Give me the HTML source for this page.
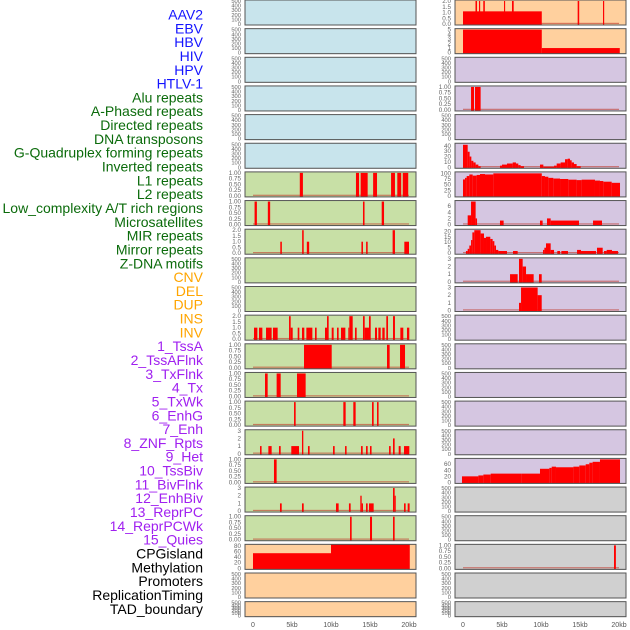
<!DOCTYPE html>
<html><head><meta charset="utf-8"><style>
html,body{margin:0;padding:0;background:#fff;width:630px;height:630px;overflow:hidden}
svg{display:block}
</style></head><body>
<svg id="chart" width="630" height="630" xmlns="http://www.w3.org/2000/svg"></svg>
<script>
// ----- data -----
const trackLabels = ["AAV2","EBV","HBV","HIV","HPV","HTLV-1","Alu repeats","A-Phased repeats","Directed repeats","DNA transposons","G-Quadruplex forming repeats","Inverted repeats","L1 repeats","L2 repeats","Low_complexity A/T rich regions","Microsatellites","MIR repeats","Mirror repeats","Z-DNA motifs","CNV","DEL","DUP","INS","INV","1_TssA","2_TssAFlnk","3_TxFlnk","4_Tx","5_TxWk","6_EnhG","7_Enh","8_ZNF_Rpts","9_Het","10_TssBiv","11_BivFlnk","12_EnhBiv","13_ReprPC","14_ReprPCWk","15_Quies","CPGisland","Methylation","Promoters","ReplicationTiming","TAD_boundary"];
const labelGroups = ["v","v","v","v","v","v","r","r","r","r","r","r","r","r","r","r","r","r","r","s","s","s","s","s","c","c","c","c","c","c","c","c","c","c","c","c","c","c","c","o","o","o","o","o"];
const xTickLabels = ["0","5kb","10kb","15kb","20kb"];
const xTickValues = [0,5,10,15,20];
const emptyTicks = [0,100,200,300,400,500];
const unitTicks = [0,0.25,0.5,0.75,1];
const twoTicks = [0,0.5,1,1.5,2];
const threeTicks = [0,1,2,3];

// left column panels (segments: [startKb, endKb, value])
const L6 = [[6.0,6.4,1],[13.2,13.6,1],[13.8,14.7,1],[15.4,15.9,1],[17.7,18.2,1],[18.5,19.0,1],[19.2,19.9,1]];
const L7 = [[0.2,0.5,1],[1.9,2.2,1],[14.1,14.3,1],[16.5,16.8,1]];
const L8 = [[3.5,3.7,1],[6.3,6.5,2],[6.9,7.2,1],[13.9,14.1,1],[14.5,14.7,1],[17.9,18.2,2],[19.4,20.0,1]];
const L11 = [[0.13,0.56,1],[0.77,1.2,1],[1.67,2.39,1],[2.56,3.16,1],[4.62,4.83,2],[4.83,5.09,1],[5.73,5.94,1],[6.28,6.58,1],[6.84,7.61,1],[7.95,8.16,1],[9.23,9.49,1],[9.49,9.7,2],[10.09,10.34,1],[10.77,10.98,1],[11.28,11.84,1],[12.22,12.35,1],[12.35,12.78,2],[13.08,13.29,1],[14.1,14.32,2],[14.32,14.87,1],[14.87,15.09,2],[15.64,15.9,1],[16.07,16.37,1],[16.58,16.88,1],[17.09,17.31,2],[17.95,18.2,2],[18.89,19.27,1],[19.74,20.04,1]];
const L12 = [[6.54,10.09,1],[17.18,17.52,1],[18.85,19.49,1]];
const L13 = [[1.54,1.88,1],[3.03,3.55,1],[5.64,6.75,1]];
const L14 = [[5.26,5.47,1],[11.58,11.88,1],[12.86,13.16,1],[15.26,15.47,1],[15.9,16.1,1]];
const L15 = [[0.9,1.1,1],[1.97,2.39,1],[3.33,3.55,1],[4.91,5.9,1],[6.28,6.45,3],[7.05,7.26,1],[10.26,10.47,1],[11.8,12.0,1],[13.85,14.06,1],[14.49,14.7,1],[15.0,15.2,1],[17.44,17.65,1],[17.95,18.16,2],[18.68,18.93,1],[19.36,20.04,1]];
const L16 = [[2.69,3.03,1]];
const L17 = [[3.46,3.68,1],[6.28,6.5,1],[10.64,10.98,1],[12.3,12.52,1],[13.76,13.93,2],[13.93,14.1,1],[14.49,14.7,1],[14.87,15.47,1],[17.95,18.16,3],[18.16,18.3,2],[19.36,19.57,1],[19.83,20.08,1]];
const L18 = [[12.44,12.65,1],[15.0,15.26,1],[17.95,18.16,1]];
const L19 = [[0,10.0,54],[10.0,20.1,90]];

// right column panels
const R0 = [[0,10.1,1.1],[1.6,1.8,2],[2.05,2.2,2],[2.6,2.8,2],[5.26,5.4,2],[6.28,6.5,2],[14.7,14.9,2],[17.95,18.1,2]];
const R1 = [[0,10.1,5],[10.1,20.1,1.0]];
const R3 = [[1.03,1.41,1],[1.54,2.26,1]];
const R5 = [[0,0.6,42],[0.6,0.85,29],[0.85,1.07,20],[1.07,1.33,12],[1.33,1.62,9],[1.62,1.97,5],[1.97,2.26,2],[4.74,5.0,3],[5.0,5.64,5],[5.64,6.37,7],[6.37,6.79,9],[6.79,7.09,7],[7.09,7.39,4],[7.39,7.82,2],[9.87,10.3,5],[10.3,11.67,1],[11.67,12.01,3],[12.01,12.52,7],[12.52,13.08,9],[13.08,13.42,15],[13.42,13.72,16],[13.72,13.93,13],[13.93,14.23,9],[14.23,14.57,6],[14.57,15.09,2]];
const R6 = [[0,0.26,73],[0.26,0.47,80],[0.47,0.81,88],[0.81,1.24,95],[1.24,1.75,90],[1.75,2.18,93],[2.18,2.82,97],[2.82,3.89,95],[3.89,10.1,100],[10.1,10.51,88],[10.51,10.94,85],[10.94,11.58,80],[11.58,12.44,77],[12.44,13.5,75],[13.5,14.57,72],[14.57,15.21,70],[15.21,16.92,72],[16.92,17.56,68],[17.56,17.99,66],[17.99,19.06,63],[19.06,20.13,58]];
const R7 = [[0.6,1.03,3],[1.03,1.62,7.5],[1.62,1.8,2],[4.74,5.21,1.3],[9.87,10.21,1.3],[10.77,11.24,2],[11.24,14.87,1.3],[16.67,17.82,1.3]];
const R8 = [[0.38,0.6,2],[0.6,0.81,4],[0.81,1.03,7],[1.03,1.2,12],[1.2,1.45,19],[1.45,2.26,21],[2.26,2.69,18],[2.69,2.95,14],[2.95,3.5,15],[3.5,3.8,13],[3.8,4.02,11],[4.02,4.23,7],[4.23,4.53,3],[4.53,5.64,2],[6.41,7.01,2],[10.26,10.43,3],[10.43,10.64,5],[10.64,11.24,9],[11.24,11.67,3],[12.09,12.44,2],[12.61,13.46,2],[14.62,15.13,3],[15.13,17.05,2],[17.18,17.91,5],[18.08,18.42,2],[18.42,19.1,3],[19.1,19.87,2]];
const R9 = [[6.03,7.01,1],[7.18,7.65,3],[7.65,8.08,2],[8.08,9.06,1],[9.74,10.09,1]];
const R10 = [[7.18,7.44,1],[7.44,9.57,3],[9.57,10.09,2]];
const R16 = [[-0.13,1.97,20],[1.97,2.61,23],[2.61,3.55,26],[3.55,7.52,29],[7.52,9.87,29],[9.87,11.07,45],[11.07,11.37,48],[11.37,11.92,52],[11.92,14.15,50],[14.15,14.91,52],[14.91,15.73,56],[15.73,16.2,60],[16.2,16.62,65],[16.62,17.56,68],[17.56,20.13,76]];
const R19 = [[19.36,19.6,1]];

const BLUE="#c8e4ec", GREEN="#c8e0a6", ORANGE="#ffd09e", PURPLE="#d5c6e1", GRAY="#d0d0d0";
// [col,row,bg,ymax,ticks,segs,baseline]
const panels = [
 [0,0,BLUE,500,emptyTicks,[],0],[0,1,BLUE,500,emptyTicks,[],0],[0,2,BLUE,500,emptyTicks,[],0],
 [0,3,BLUE,500,emptyTicks,[],0],[0,4,BLUE,500,emptyTicks,[],0],[0,5,BLUE,500,emptyTicks,[],0],
 [0,6,GREEN,1,unitTicks,L6,1],[0,7,GREEN,1,unitTicks,L7,1],[0,8,GREEN,2,twoTicks,L8,1],
 [0,9,GREEN,500,emptyTicks,[],0],[0,10,GREEN,500,emptyTicks,[],0],[0,11,GREEN,2,twoTicks,L11,1],
 [0,12,GREEN,1,unitTicks,L12,1],[0,13,GREEN,1,unitTicks,L13,1],[0,14,GREEN,1,unitTicks,L14,1],
 [0,15,GREEN,3,threeTicks,L15,1],[0,16,GREEN,1,unitTicks,L16,1],[0,17,GREEN,3,threeTicks,L17,1],
 [0,18,GREEN,1,unitTicks,L18,1],[0,19,ORANGE,82,[0,20,40,60,80],L19,0],[0,20,ORANGE,500,emptyTicks,[],0],
 [0,21,ORANGE,500,emptyTicks,[],0],
 [1,0,ORANGE,2,twoTicks,R0,1],[1,1,ORANGE,5,[0,1,2,3,4,5],R1,0],[1,2,PURPLE,500,emptyTicks,[],0],
 [1,3,PURPLE,1,unitTicks,R3,1],[1,4,PURPLE,500,emptyTicks,[],0],[1,5,PURPLE,43,[0,10,20,30,40],R5,1],
 [1,6,PURPLE,102,[0,25,50,75,100],R6,0],[1,7,PURPLE,7.5,[0,2,4,6],R7,1],[1,8,PURPLE,21,[0,5,10,15,20],R8,1],
 [1,9,PURPLE,3,threeTicks,R9,1],[1,10,PURPLE,3,threeTicks,R10,1],[1,11,PURPLE,500,emptyTicks,[],0],
 [1,12,PURPLE,500,emptyTicks,[],0],[1,13,PURPLE,500,emptyTicks,[],0],[1,14,PURPLE,500,emptyTicks,[],0],
 [1,15,PURPLE,500,emptyTicks,[],0],[1,16,PURPLE,76,[0,20,40,60],R16,0],[1,17,GRAY,500,emptyTicks,[],0],
 [1,18,GRAY,500,emptyTicks,[],0],[1,19,GRAY,1,unitTicks,R19,1],[1,20,GRAY,500,emptyTicks,[],0],
 [1,21,GRAY,500,emptyTicks,[],0]
];

// ----- drawing -----
const NS="http://www.w3.org/2000/svg";
const svg=document.getElementById('chart');
function mk(tag,attrs,parent){const e=document.createElementNS(NS,tag);for(const k in attrs)e.setAttribute(k,attrs[k]);(parent||svg).appendChild(e);return e;}
const colX=[245,455], PW=171;
function xScale(col,kb){return colX[col]+8+kb*7.8;}
function rowTop(r){return r*28.65;}
function rowH(r){return r===21?15:25;}
const groupColor={v:"#1414ff",r:"#0b6b0b",s:"#ffa500",c:"#a020f0",o:"#000"};

// labels
trackLabels.forEach((t,i)=>{
  const el=mk('text',{x:203,y:19.5+i*13.82,'text-anchor':'end','font-family':'Liberation Sans, sans-serif','font-size':'14',fill:groupColor[labelGroups[i]]});
  el.textContent=t;
  
  
});

const defs=mk('defs',{});
panels.forEach((p,pi)=>{
  const [col,row,bg,ymax,ticks,segs,base]=p;
  const T=rowTop(row), H=rowH(row), X=colX[col];
  const g=mk('g',{});
  
  
  const cp=mk('clipPath',{id:'c'+pi},defs);
  mk('rect',{x:X,y:T,width:PW,height:H},cp);
  mk('rect',{x:X+0.5,y:T+0.5,width:PW,height:H,fill:'#999',opacity:0.6},g);
  mk('rect',{x:X,y:T,width:PW,height:H,fill:bg},g);
  const y0=T+H-1, y1=T+1;
  const yScale=v=>y0-(v/ymax)*(y0-y1);
  const bars=mk('g',{'clip-path':'url(#c'+pi+')'},g);
  if(base){mk('rect',{x:xScale(col,0),y:y0-1.2,width:xScale(col,20)-xScale(col,0),height:1.2,fill:'#c0392b',opacity:0.6},bars);}
  segs.forEach(s=>{
    const xa=xScale(col,s[0]), xb=xScale(col,s[1]), yt=yScale(s[2]);
    const b=mk('rect',{x:xa,y:yt,width:Math.max(1,xb-xa),height:y0-yt+1,fill:'#ff0000'},bars);
    
    
  });
  mk('rect',{x:X,y:T,width:PW,height:H,fill:'none',stroke:'#555','stroke-width':1},g);
  ticks.forEach(v=>{
    const lab = ymax<=1 ? v.toFixed(2) : (ticks===twoTicks? v.toFixed(1): String(v));
    const tl=mk('text',{x:X-4,y:yScale(v)+2,'text-anchor':'end','font-family':'Liberation Sans, sans-serif','font-size':(ticks===emptyTicks?5.8:6.3),fill:'#666'},g);
    tl.textContent=lab;
    
    
  });
});
// x axes
[0,1].forEach(col=>{
  xTickValues.forEach((v,i)=>{
    const t=mk('text',{x:xScale(col,v),y:627,'text-anchor':'middle','font-family':'Liberation Sans, sans-serif','font-size':'7',fill:'#555'});
    t.textContent=xTickLabels[i];
    
    
  });
});
</script>
</body></html>
